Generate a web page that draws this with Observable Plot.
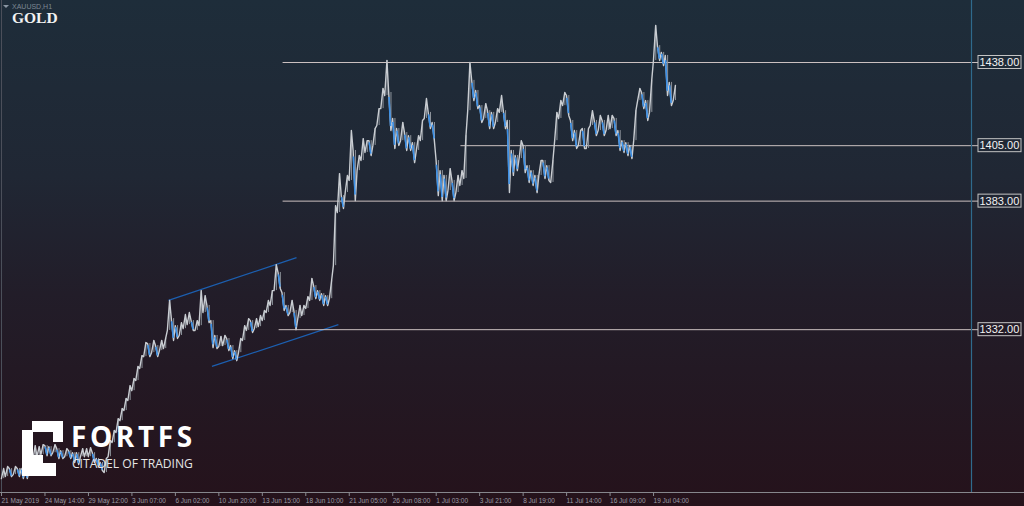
<!DOCTYPE html>
<html>
<head>
<meta charset="utf-8">
<script src="https://cdn.jsdelivr.net/npm/d3@7"></script>
<script src="https://cdn.jsdelivr.net/npm/@observablehq/plot@0.6"></script>
<style>
  html, body { margin: 0; padding: 0; }
  body { width: 1024px; height: 506px; overflow: hidden;
    background: linear-gradient(to bottom, #1e2d3a 0%, #202734 35%, #221d29 58%, #25121b 100%); }
  #wrap { position: relative; width: 1024px; height: 506px; }
  #chart { position: absolute; left: 0; top: 0; }
  .sym { position: absolute; left: 12px; top: 3px; font: 7px "Liberation Sans", Arial, sans-serif; color: #7d8893; }
  .tri { position: absolute; left: 3px; top: 5px; width: 0; height: 0; border-left: 3px solid transparent; border-right: 3px solid transparent; border-top: 3px solid #8a96a2; }
  .title { position: absolute; left: 12px; top: 9px; font: bold 15.5px "Liberation Serif", "DejaVu Serif", serif; color: #f2f2f2; }
  #logo { position: absolute; left: 0; top: 0; pointer-events: none; }
</style>
</head>
<body>
<div id="wrap">
  <div id="chart"></div>
  <div class="tri"></div>
  <div class="sym">XAUUSD,H1</div>
  <div class="title">GOLD</div>
  <svg id="logo" width="1024" height="506">
    <g fill="#ffffff">
      <rect x="32" y="421" width="31" height="11"/>
      <rect x="22" y="430" width="11" height="46"/>
      <rect x="53" y="432" width="10" height="10"/>
      <rect x="33" y="455" width="10" height="8"/>
      <rect x="33" y="463" width="23" height="13"/>
    </g>
    <text x="71" y="447" fill="#ffffff" font-family="'Open Sans', 'Liberation Sans', sans-serif" font-weight="700" font-size="28" letter-spacing="3.6">FORTFS</text>
    <text x="72" y="467.5" fill="#e6e6e6" font-family="'Open Sans', 'Liberation Sans', sans-serif" font-size="12.1" letter-spacing="0">CITADEL OF TRADING</text>
  </svg>
</div>
<script>
// ---- data ----
// hourly price action condensed into columns (high / low of each column)
const high = [1276.9,1277.7,1276.9,1277.7,1276.9,1276.9,1276.1,1282.0,1286.0,1285.6,
  1286.4,1286.0,1285.6,1286.4,1284.8,1284.0,1284.8,1284.0,1283.2,1283.2,
  1284.8,1284.8,1285.2,1283.2,1280.9,1279.3,1280.9,1288.0,1292.0,1296.7,
  1300.7,1304.7,1309.8,1312.6,1317.4,1321.7,1326.9,1326.5,1327.7,1325.7,
  1327.7,1328.5,1343.6,1336.4,1333.6,1334.8,1338.0,1338.8,1335.6,1335.6,
  1347.5,1345.5,1341.6,1335.6,1329.7,1329.3,1329.7,1328.5,1325.7,1323.7,
  1328.5,1333.6,1336.4,1335.6,1336.4,1337.6,1339.6,1343.6,1347.5,1357.8,
  1354.7,1346.7,1341.6,1343.6,1339.6,1341.6,1341.6,1345.1,1352.3,1349.5,
  1347.5,1346.3,1345.5,1351.5,1381.2,1393.9,1385.2,1393.2,1411.0,1403.1,
  1401.1,1407.8,1407.0,1407.0,1411.8,1419.7,1427.7,1438.8,1426.1,1415.8,
  1411.8,1414.2,1410.2,1409.0,1406.2,1409.0,1415.0,1423.7,1418.2,1414.2,
  1399.1,1395.1,1393.2,1395.9,1391.2,1393.2,1395.1,1409.0,1438.0,1430.9,
  1426.9,1420.9,1421.7,1418.9,1418.2,1419.7,1424.9,1418.9,1415.0,1403.1,
  1401.1,1407.0,1405.1,1397.1,1395.1,1393.2,1399.1,1399.1,1397.1,1399.1,
  1418.2,1422.9,1426.1,1424.9,1415.0,1411.0,1411.0,1411.8,1411.8,1418.9,
  1415.0,1417.0,1415.0,1417.0,1417.0,1415.8,1411.0,1407.0,1406.2,1405.1,
  1418.9,1427.7,1426.1,1422.9,1430.9,1452.7,1444.7,1442.0,1440.8,1430.1,
  1428.9];
const low = [1272.9,1273.7,1273.7,1274.5,1273.7,1272.9,1272.9,1276.1,1280.9,1281.6,
  1282.4,1282.0,1282.0,1283.2,1280.9,1280.9,1281.6,1280.9,1279.3,1278.5,
  1281.6,1281.6,1281.6,1279.3,1277.7,1276.1,1275.3,1281.6,1287.2,1291.2,
  1295.9,1299.9,1303.9,1307.8,1311.8,1316.6,1321.3,1321.3,1322.9,1321.3,
  1323.7,1324.5,1331.7,1327.7,1328.5,1329.7,1332.4,1334.0,1331.7,1331.7,
  1333.6,1338.8,1334.8,1324.9,1324.5,1325.3,1325.7,1323.7,1320.5,1319.7,
  1322.9,1327.7,1331.7,1330.9,1332.4,1333.2,1335.6,1338.8,1341.6,1347.5,
  1348.3,1339.6,1337.6,1338.8,1332.0,1336.4,1337.6,1340.4,1343.6,1344.3,
  1343.6,1341.6,1341.6,1344.3,1357.4,1378.5,1380.1,1386.4,1391.2,1383.2,
  1395.1,1399.1,1402.3,1401.1,1405.1,1413.0,1419.7,1424.9,1411.0,1403.9,
  1405.1,1407.0,1403.1,1403.1,1398.3,1403.1,1407.0,1415.8,1411.8,1407.0,
  1385.2,1383.2,1383.2,1387.2,1383.2,1386.4,1389.2,1392.0,1418.9,1422.9,
  1419.7,1414.2,1415.8,1411.8,1411.8,1414.2,1418.2,1411.8,1386.4,1393.2,
  1395.1,1399.9,1394.3,1390.4,1389.2,1386.4,1393.2,1392.0,1391.2,1390.4,
  1407.0,1415.8,1420.9,1417.0,1407.0,1403.9,1405.1,1403.9,1403.9,1413.0,
  1409.0,1411.0,1409.0,1411.0,1411.8,1409.0,1403.1,1402.3,1401.1,1399.9,
  1407.0,1422.9,1419.7,1415.0,1418.2,1438.8,1438.8,1436.8,1424.9,1420.9,
  1422.9];

// horizontal support / resistance levels and the bar where each starts
const levels = [1438, 1405, 1383, 1332];
const levelFrom = [71, 116, 71, 70];

// rising channel (bar index, price)
const channelX1 = [42, 53];
const channelY1 = [1343.6, 1317.4];
const channelX2 = [74.4, 85];
const channelY2 = [1360.6, 1334.0];

// time axis labels, one every 11 columns
const tickLabels = ["21 May 2019","24 May 14:00","29 May 12:00","3 Jun 07:00","6 Jun 02:00",
  "10 Jun 20:00","13 Jun 15:00","18 Jun 10:00","21 Jun 05:00","26 Jun 08:00","1 Jul 03:00",
  "3 Jul 21:00","8 Jul 19:00","11 Jul 14:00","16 Jul 09:00","19 Jul 04:00"];
const tickEvery = 11;

// ---- build ----
const xMax = 245.2;
const yMin = 1267.4, yMax = 1462.6;

const bars = high.map((h, i) => ({i, high: h, low: low[i], mid: (h + low[i]) / 2}));
bars.forEach((b, k) => { b.down = k > 0 && b.mid < bars[k - 1].mid; });
// zig-zag path: each column visits its low and high (order by direction)
const path = [];
bars.forEach(b => {
  const a = b.down ? b.high : b.low, z = b.down ? b.low : b.high;
  path.push({x: b.i - 0.28, y: a});
  path.push({x: b.i + 0.28, y: z});
});
const downSegs = bars.filter(b => b.down).map(b => {
  const r = b.high - b.low;
  return {x1: b.i - 0.2, y1: b.high - r * 0.12, x2: b.i + 0.2, y2: b.low + r * 0.12};
});
const levelData = levels.map((p, k) => ({p, from: levelFrom[k], to: xMax}));
const channel = channelX1.map((x, k) => ({x1: x, y1: channelY1[k], x2: channelX2[k], y2: channelY2[k]}));
const ticks = tickLabels.map((t, k) => k * tickEvery);

const chart = Plot.plot({
  width: 1024,
  height: 506,
  marginLeft: 2,
  marginRight: 53,
  marginTop: 0,
  marginBottom: 14,
  style: {background: "transparent", overflow: "visible"},
  x: {domain: [0, xMax]},
  y: {domain: [yMin, yMax], axis: null},
  marks: [
    // left border
    Plot.ruleX([0], {stroke: "#4b4f5a", strokeWidth: 1, dx: -1}),
    // channel
    Plot.link(channel, {x1: "x1", y1: "y1", x2: "x2", y2: "y2", stroke: "#1c5fb0", strokeWidth: 1.3}),
    // levels
    Plot.ruleY(levelData, {y: "p", x1: "from", x2: "to", stroke: "#cbc0c0", strokeWidth: 1, insetRight: -7}),
    // price action
    Plot.ruleX(bars, {x: "i", y1: "low", y2: "high", stroke: "#8d939b", strokeWidth: 1, dx: 1.2}),
    Plot.line(path, {x: "x", y: "y", stroke: "#c9cdd2", strokeWidth: 1.4}),
    Plot.link(downSegs, {x1: "x1", y1: "y1", x2: "x2", y2: "y2", stroke: "#3a8fe6", strokeWidth: 1.6}),
    // right-side vertical line
    Plot.ruleX([xMax], {stroke: "#2f6a8c", strokeWidth: 1.2}),
    // price label boxes
    Plot.rect(levels, {x1: xMax, x2: xMax, y1: d => d, y2: d => d,
      insetLeft: 7, insetRight: -50, insetTop: -6.5, insetBottom: -6.5,
      fill: "none", stroke: "#c4c4c4", strokeWidth: 1}),
    Plot.text(levels, {x: xMax, y: d => d, text: d => d.toFixed(2), dx: 8, textAnchor: "start",
      fill: "#f2f2f2", fontSize: 11, fontFamily: "'Liberation Sans', Arial, sans-serif"}),
    // bottom axis line
    Plot.ruleY([yMin], {stroke: "#86868c", strokeWidth: 1, insetLeft: -2, insetRight: -53}),
    Plot.axisX({ticks, tickFormat: (d, k) => tickLabels[k], tickSize: 4, tickPadding: 1.5,
      textAnchor: "start", dx: -1, stroke: "#8a8a90", fill: "#9c9ca4", fontSize: 6.5,
      fontFamily: "'Liberation Sans', Arial, sans-serif", label: null})
  ]
});
document.getElementById("chart").appendChild(chart);
</script>
</body>
</html>
